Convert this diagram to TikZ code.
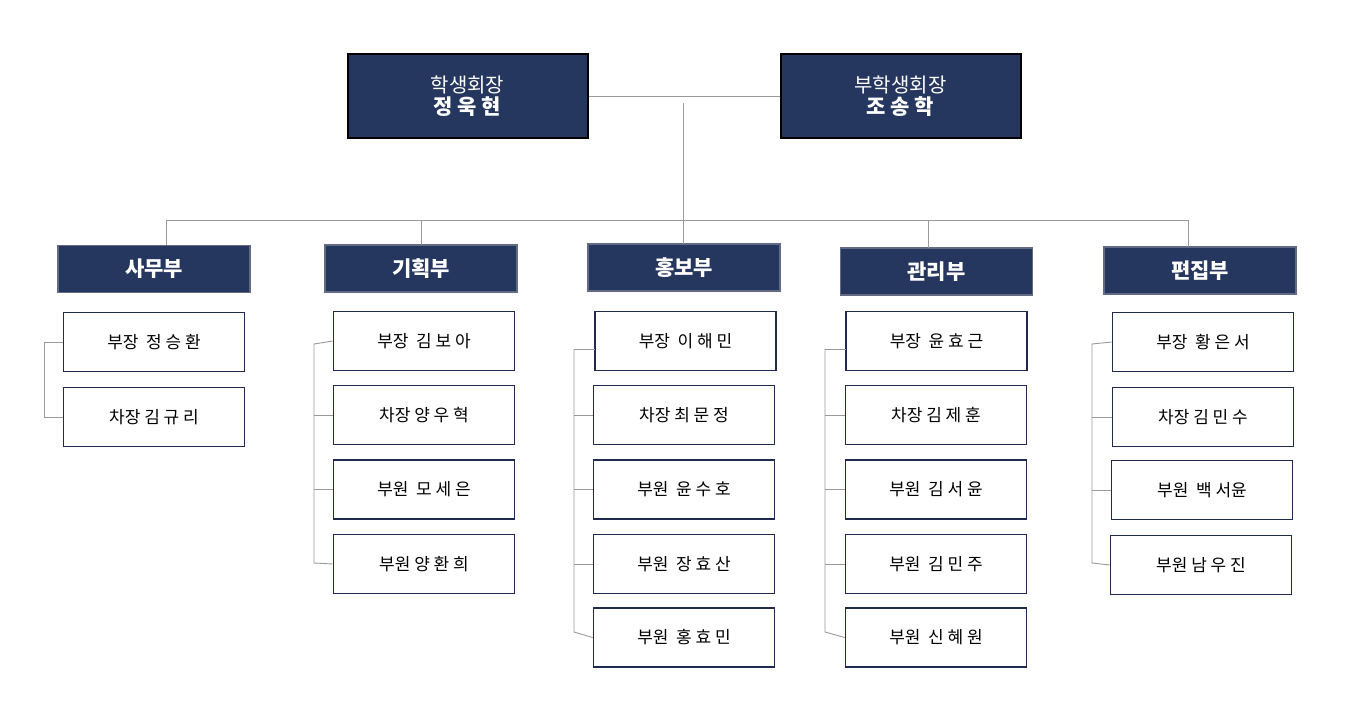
\documentclass[tikz,border=0pt]{standalone}
\usepackage{fontspec}
\setmainfont{Noto Sans CJK KR}
\definecolor{navy}{HTML}{26375F}
\definecolor{bord}{HTML}{1F2A4F}
\begin{document}
\begin{tikzpicture}[x=1pt,y=-1pt,
  top/.style={draw=black,line width=2pt,fill=navy,text=white,align=center,minimum width=240pt,minimum height=84pt,inner sep=0pt},
  dept/.style={draw=bord!70,line width=1.2pt,fill=navy,text=white,minimum width=192pt,minimum height=47pt,font=\fontsize{21}{24}\selectfont\bfseries},
  mem/.style={draw=bord,line width=1.6pt,fill=white,minimum width=181pt,minimum height=59pt,font=\fontsize{17}{20}\selectfont},
  con/.style={draw=gray!80,line width=0.9pt}]
\useasboundingbox (0,0) rectangle (1353,714);
\node[top] (p) at (467.5,96) {\fontsize{20}{26}\selectfont 학생회장\\[2pt]\fontsize{21}{26}\selectfont\bfseries 정 욱 현};
\node[top] (vp) at (900.5,96) {\fontsize{20}{26}\selectfont 부학생회장\\[2pt]\fontsize{21}{26}\selectfont\bfseries 조 송 학};
\node[dept] (d1) at (154,269) {사무부};
\node[dept] (d2) at (421,268.5) {기획부};
\node[dept] (d3) at (684,267.5) {홍보부};
\node[dept] (d4) at (936.5,271.5) {관리부};
\node[dept] (d5) at (1200,270.5) {편집부};
\coordinate (hub) at (683,103);
\draw[con] (p.east) -- (vp.west);
\draw[con] (hub) -- (683,220);
\draw[con] (166,220) -- (1188,220);
\draw[con] (166,220) -- (166,245);
\draw[con] (421,220) -- (421,245);
\draw[con] (683,220) -- (683,244);
\draw[con] (928,220) -- (928,248);
\draw[con] (1188,220) -- (1188,247);
% 사무부
\node[mem] (a1) at (154,342) {부장\ \ 정 승 환};
\node[mem] (a2) at (154,417) {차장 김 규 리};
\draw[con] (a1.west) -- (44,342) -- (44,417) -- (a2.west);
% 기획부
\node[mem] (b1) at (424,341) {부장\ \ 김 보 아};
\node[mem] (b2) at (424,415) {차장 양 우 혁};
\node[mem] (b3) at (424,489.5) {부원\ \ 모 세 은};
\node[mem] (b4) at (424,564) {부원 양 환 희};
\draw[con] (b1.west) -- (314,344) -- (314,563) -- (b4.west);
\draw[con] (314,415) -- (b2.west);
\draw[con] (314,489.5) -- (b3.west);
% 홍보부
\node[mem] (c1) at (685.5,341) {부장\ \ 이 해 민};
\node[mem] (c2) at (684,415) {차장 최 문 정};
\node[mem] (c3) at (684,489.5) {부원\ \ 윤 수 호};
\node[mem] (c4) at (684,564) {부원\ \ 장 효 산};
\node[mem] (c5) at (684,637.5) {부원\ \ 홍 효 민};
\draw[con] (574,349) -- (574,632) -- (c5.west);
\draw[con] (574,349) -- (595,349);
\draw[con] (574,415) -- (c2.west);
\draw[con] (574,489.5) -- (c3.west);
\draw[con] (574,564) -- (c4.west);
% 관리부
\node[mem] (e1) at (936.5,341) {부장\ \ 윤 효 근};
\node[mem] (e2) at (936,415) {차장 김 제 훈};
\node[mem] (e3) at (936,489.5) {부원\ \ 김 서 윤};
\node[mem] (e4) at (936,564) {부원\ \ 김 민 주};
\node[mem] (e5) at (936,637.5) {부원\ \ 신 혜 원};
\draw[con] (825,349) -- (825,632) -- (e5.west);
\draw[con] (825,349) -- (846,349);
\draw[con] (825,415) -- (e2.west);
\draw[con] (825,489.5) -- (e3.west);
\draw[con] (825,564) -- (e4.west);
% 편집부
\node[mem] (f1) at (1203,342) {부장\ \ 황 은 서};
\node[mem] (f2) at (1203,417) {차장 김 민 수};
\node[mem] (f3) at (1202,490) {부원\ \ 백 서윤};
\node[mem] (f4) at (1201,565) {부원 남 우 진};
\draw[con] (f1.west) -- (1092,344) -- (1092,563) -- (f4.west);
\draw[con] (1092,417) -- (f2.west);
\draw[con] (1092,490) -- (f3.west);
\end{tikzpicture}
\end{document}
